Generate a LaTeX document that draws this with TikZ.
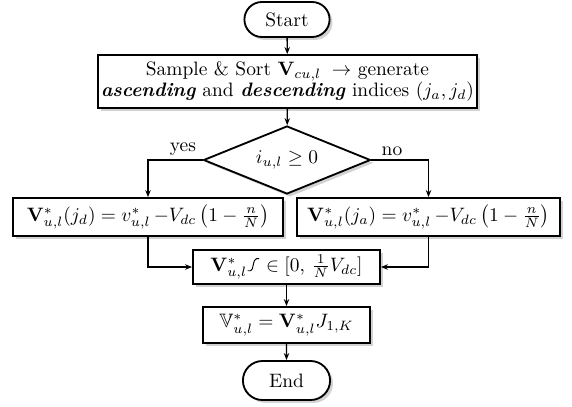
\documentclass[tikz,border=0pt]{standalone}
\usepackage{amsmath,amssymb}
\usetikzlibrary{shapes.geometric,shapes.misc,shadows,arrows.meta}
\def\pxu{0.515pt}
\newcommand\rampglyph{\tikz[baseline=0pt,line width=0.5pt,line cap=butt]{\draw (0,0.2pt) -- (1.6pt,0.2pt) .. controls (3.2pt,0.2pt) and (2.6pt,6.4pt) .. (4.6pt,6.4pt) -- (6pt,6.4pt);}}
\tikzset{
  shadowed/.style={drop shadow={shadow xshift=1.5pt,shadow yshift=-1.5pt,fill=black!35}},
  boxnode/.style={draw,line width=0.95pt,fill=white,shadowed,rectangle,inner sep=1.5pt,align=center},
  termnode/.style={draw,line width=0.95pt,fill=white,shadowed,rounded rectangle,inner sep=1.5pt},
  decnode/.style={draw,line width=0.95pt,fill=white,shadowed,diamond,aspect=2.45,inner sep=1pt},
  conn/.style={line width=0.7pt,-{Stealth[length=3.6pt,width=2.8pt]}}
}
\begin{document}
\begin{tikzpicture}[x=\pxu,y=-\pxu]
\useasboundingbox (0,0) rectangle (572,406);
\node[termnode,minimum width=91*\pxu,minimum height=35*\pxu] (start) at (287,19.5) {Start};
\node[boxnode,minimum width=379*\pxu,minimum height=53*\pxu] (sort) at (287.5,81.5)
  {Sample \& Sort $\mathbf{V}_{cu,l}\;\rightarrow$ generate\\[-1.5pt]
   \textbf{\textit{ascending}} and \textbf{\textit{descending}} indices $(j_a,j_d)$};
\node[decnode,minimum width=167*\pxu,minimum height=68*\pxu] (dec) at (287,160) {$i_{u,l}\geq 0$};
\node[boxnode,minimum width=270*\pxu,minimum height=38*\pxu] (left) at (148,217)
  {$\mathbf{V}^*_{u,l}(j_d) = v^*_{u,l}\,{-}V_{dc}\left(1-\frac{n}{N}\right)$};
\node[boxnode,minimum width=263*\pxu,minimum height=38*\pxu] (right) at (428.5,217)
  {$\mathbf{V}^*_{u,l}(j_a) = v^*_{u,l}\,{-}V_{dc}\left(1-\frac{n}{N}\right)$};
\node[boxnode,minimum width=187*\pxu,minimum height=34*\pxu] (mid) at (286.5,267)
  {$\mathbf{V}^*_{u,l}$\rampglyph\ $\in[0,\,\frac{1}{N}V_{dc}]$};
\node[boxnode,minimum width=167*\pxu,minimum height=36*\pxu] (bot) at (286.5,325)
  {$\mathbb{V}^*_{u,l}=\mathbf{V}^*_{u,l}J_{1,K}$};
\node[termnode,minimum width=93*\pxu,minimum height=39*\pxu] (end) at (286.5,380.5) {End};
\draw[conn] (start) -- (sort);
\draw[conn] (sort) -- (dec);
\draw[conn] (dec.west) -| node[pos=0.18,above=-1.5pt] (yes) {yes} (left.north);
\draw[conn] (dec.east) -| node[pos=0.18,above=-1.5pt] (no) {no} (right.north);
\draw[conn] (left.south) |- (mid.west);
\draw[conn] (right.south) |- (mid.east);
\draw[conn] (mid) -- (bot);
\draw[conn] (bot) -- (end);
\end{tikzpicture}
\end{document}
